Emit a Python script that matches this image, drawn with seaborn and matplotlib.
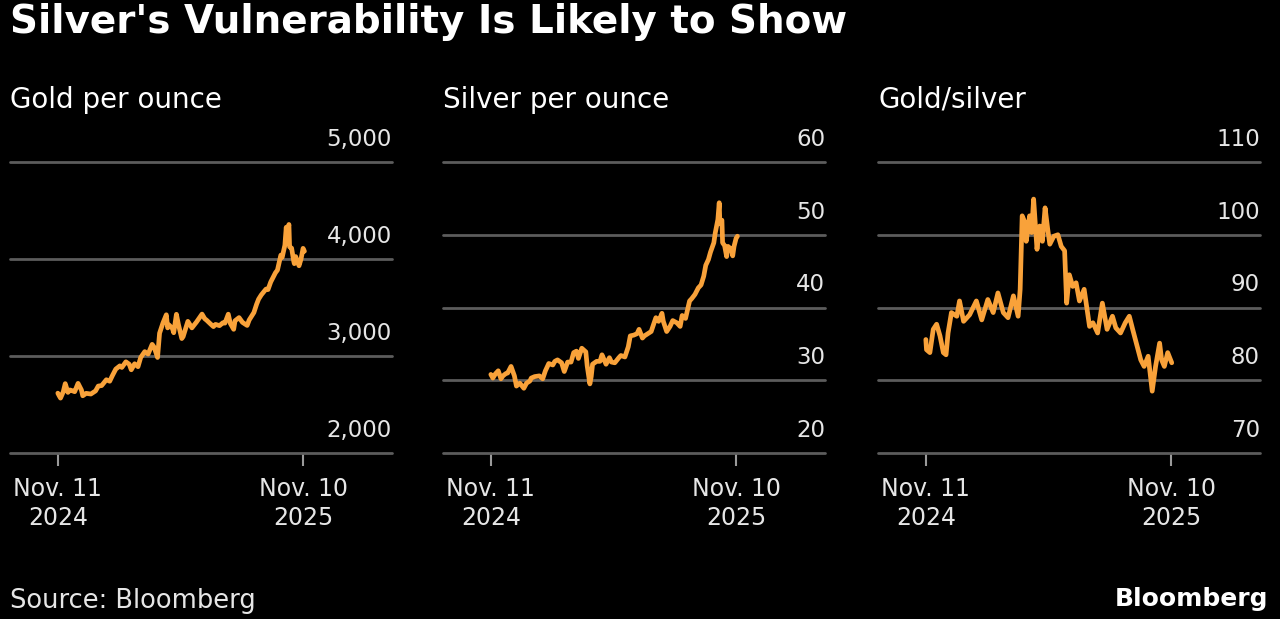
import matplotlib
matplotlib.use("Agg")
import matplotlib.pyplot as plt
import seaborn as sns
import pandas as pd

# ---------------- data ----------------
gold_dates = [
    "2024-11-11", "2024-11-13", "2024-11-15", "2024-11-19", "2024-11-22", "2024-11-26",
    "2024-11-29", "2024-12-03", "2024-12-06", "2024-12-11", "2024-12-16", "2024-12-18",
    "2024-12-23", "2024-12-30", "2025-01-06", "2025-01-10", "2025-01-15", "2025-01-22",
    "2025-01-27", "2025-01-31", "2025-02-05", "2025-02-11", "2025-02-14", "2025-02-20",
    "2025-02-25", "2025-02-28", "2025-03-05", "2025-03-10", "2025-03-14", "2025-03-20",
    "2025-03-25", "2025-03-31", "2025-04-03", "2025-04-08", "2025-04-11", "2025-04-16",
    "2025-04-21", "2025-04-23", "2025-04-25", "2025-04-30", "2025-05-02", "2025-05-06",
    "2025-05-09", "2025-05-14", "2025-05-16", "2025-05-20", "2025-05-23", "2025-05-29",
    "2025-06-05", "2025-06-13", "2025-06-17", "2025-06-20", "2025-06-26", "2025-06-30",
    "2025-07-03", "2025-07-09", "2025-07-14", "2025-07-17", "2025-07-22", "2025-07-25",
    "2025-07-30", "2025-08-01", "2025-08-07", "2025-08-12", "2025-08-19", "2025-08-22",
    "2025-08-29", "2025-09-02", "2025-09-05", "2025-09-09", "2025-09-16", "2025-09-19",
    "2025-09-23", "2025-09-30", "2025-10-03", "2025-10-08", "2025-10-10", "2025-10-14",
    "2025-10-16", "2025-10-17", "2025-10-20", "2025-10-21", "2025-10-24", "2025-10-27",
    "2025-10-28", "2025-10-30", "2025-11-04", "2025-11-07", "2025-11-10", "2025-11-12",
]
gold_values = [
    2617, 2590, 2566, 2630, 2715, 2625,
    2650, 2640, 2632, 2718, 2650, 2590,
    2615, 2608, 2640, 2690, 2695, 2755,
    2740, 2798, 2865, 2898, 2882, 2940,
    2915, 2858, 2920, 2890, 2985, 3045,
    3020, 3120, 3090, 2985, 3235, 3340,
    3425, 3290, 3320, 3285, 3240, 3430,
    3325, 3180, 3200, 3290, 3357, 3290,
    3352, 3432, 3385, 3368, 3328, 3303,
    3326, 3313, 3343, 3339, 3431, 3336,
    3275, 3363, 3396, 3347, 3315, 3371,
    3448, 3533, 3586, 3630, 3690, 3685,
    3763, 3858, 3886, 4040, 4017, 4142,
    4327, 4250, 4356, 4125, 4112, 3982,
    3952, 4025, 3930, 4000, 4110, 4080,
]

silver_dates = [
    "2024-11-11", "2024-11-14", "2024-11-18", "2024-11-22", "2024-11-26", "2024-11-29",
    "2024-12-03", "2024-12-06", "2024-12-11", "2024-12-16", "2024-12-19", "2024-12-24",
    "2024-12-30", "2025-01-03", "2025-01-08", "2025-01-10", "2025-01-15", "2025-01-22",
    "2025-01-27", "2025-01-31", "2025-02-05", "2025-02-11", "2025-02-14", "2025-02-18",
    "2025-02-24", "2025-02-28", "2025-03-05", "2025-03-10", "2025-03-14", "2025-03-18",
    "2025-03-21", "2025-03-26", "2025-04-01", "2025-04-03", "2025-04-07", "2025-04-09",
    "2025-04-11", "2025-04-17", "2025-04-22", "2025-04-25", "2025-05-01", "2025-05-06",
    "2025-05-09", "2025-05-14", "2025-05-20", "2025-05-23", "2025-05-29", "2025-06-03",
    "2025-06-06", "2025-06-11", "2025-06-16", "2025-06-19", "2025-06-24", "2025-06-27",
    "2025-07-02", "2025-07-07", "2025-07-11", "2025-07-14", "2025-07-18", "2025-07-23",
    "2025-07-25", "2025-07-30", "2025-08-04", "2025-08-08", "2025-08-14", "2025-08-19",
    "2025-08-22", "2025-08-27", "2025-09-02", "2025-09-05", "2025-09-10", "2025-09-15",
    "2025-09-19", "2025-09-23", "2025-09-26", "2025-09-30", "2025-10-03", "2025-10-08",
    "2025-10-10", "2025-10-14", "2025-10-16", "2025-10-17", "2025-10-20", "2025-10-21",
    "2025-10-24", "2025-10-27", "2025-10-29", "2025-11-03", "2025-11-05", "2025-11-07",
    "2025-11-10", "2025-11-12",
]
silver_values = [
    30.8, 30.3, 30.9, 31.3, 30.2, 30.6,
    30.9, 31.0, 31.9, 30.6, 29.2, 29.6,
    28.9, 29.6, 29.9, 30.3, 30.5, 30.6,
    30.2, 31.3, 32.3, 32.1, 32.6, 32.8,
    32.4, 31.2, 32.5, 32.5, 33.8, 34.0,
    33.0, 34.4, 33.9, 32.0, 29.5, 30.5,
    32.2, 32.6, 32.6, 33.5, 32.2, 33.1,
    32.5, 32.4, 33.1, 33.4, 33.2, 34.6,
    36.1, 36.2, 36.4, 37.0, 35.8, 36.1,
    36.4, 36.7, 37.8, 38.6, 38.1, 39.2,
    38.1, 36.7, 37.4, 38.2, 37.9, 37.4,
    38.9, 38.5, 40.9, 41.2, 41.8, 42.7,
    43.1, 44.3, 45.8, 46.6, 47.6, 48.9,
    50.2, 52.1, 54.4, 51.5, 52.0, 48.9,
    48.5, 47.0, 48.4, 48.0, 47.1, 48.4,
    49.5, 49.8,
]

ratio_dates = [
    "2024-11-11", "2024-11-12", "2024-11-17", "2024-11-22", "2024-11-27", "2024-12-02",
    "2024-12-07", "2024-12-11", "2024-12-14", "2024-12-19", "2024-12-27", "2024-12-31",
    "2025-01-06", "2025-01-15", "2025-01-25", "2025-02-02", "2025-02-11", "2025-02-19",
    "2025-02-26", "2025-03-06", "2025-03-13", "2025-03-21", "2025-03-28", "2025-03-31",
    "2025-04-03", "2025-04-07", "2025-04-09", "2025-04-14", "2025-04-17", "2025-04-20",
    "2025-04-25", "2025-04-29", "2025-05-03", "2025-05-07", "2025-05-11", "2025-05-14",
    "2025-05-20", "2025-05-26", "2025-05-31", "2025-06-05", "2025-06-08", "2025-06-12",
    "2025-06-17", "2025-06-22", "2025-06-27", "2025-07-04", "2025-07-12", "2025-07-17",
    "2025-07-24", "2025-07-31", "2025-08-07", "2025-08-15", "2025-08-20", "2025-08-27",
    "2025-09-03", "2025-09-09", "2025-09-14", "2025-09-18", "2025-09-26", "2025-10-01",
    "2025-10-07", "2025-10-13", "2025-10-18", "2025-10-24", "2025-10-27", "2025-10-31",
    "2025-11-05", "2025-11-11",
]
ratio_values = [
    85.6, 84.2, 83.8, 87.0, 87.7, 86.1,
    83.8, 83.5, 86.5, 89.3, 88.8, 90.9,
    88.1, 89.0, 90.9, 88.3, 91.1, 89.3,
    92.0, 89.3, 88.6, 91.6, 88.8, 92.5,
    102.6, 101.7, 99.1, 102.6, 100.3, 104.9,
    98.0, 101.2, 99.1, 103.7, 100.7, 98.7,
    99.8, 100.0, 98.4, 97.8, 90.6, 94.5,
    92.9, 93.4, 90.9, 92.5, 87.4, 87.9,
    86.5, 90.6, 87.0, 88.8, 87.2, 86.5,
    87.9, 88.8, 87.0, 85.6, 82.8, 81.9,
    83.3, 78.5, 81.9, 85.1, 82.8, 81.9,
    83.8, 82.4,
]

titles = ["Gold per ounce", "Silver per ounce", "Gold/silver"]
y_ticks = [[2000, 3000, 4000, 5000], [20, 30, 40, 50, 60], [70, 80, 90, 100, 110]]
x_tick_dates = ["2024-11-11", "2025-11-10"]
x_tick_labels = ["Nov. 11\n2024", "Nov. 10\n2025"]
x_limits = ["2024-09-01", "2026-03-22"]

# ---------------- style ----------------
BG = "#000000"
LINE = "#F9A23A"
GRID = "#5c5c5c"
TXT = "#e6e6e6"

sns.set_theme(style="dark", rc={
    "figure.facecolor": BG, "axes.facecolor": BG, "savefig.facecolor": BG,
})
plt.rcParams["font.family"] = ["DejaVu Sans"]

fig = plt.figure(figsize=(12.8, 6.19), dpi=100)

W, H = 1280, 619
lefts_px = [10, 443, 878]
ax_w_px = 382
top_px, bot_px = 162, 453

series = [
    (gold_dates, gold_values),
    (silver_dates, silver_values),
    (ratio_dates, ratio_values),
]

for i, (dates, vals) in enumerate(series):
    ax = fig.add_axes([lefts_px[i] / W, 1 - bot_px / H, ax_w_px / W, (bot_px - top_px) / H])
    ax.set_facecolor(BG)
    df = pd.DataFrame({"date": pd.to_datetime(dates), "value": vals})
    sns.lineplot(data=df, x="date", y="value", ax=ax, color=LINE, linewidth=3.4)
    ax.set_xlabel("")
    ax.set_ylabel("")
    ax.set_xlim(pd.Timestamp(x_limits[0]), pd.Timestamp(x_limits[1]))
    yt = y_ticks[i]
    ax.set_ylim(yt[0], yt[-1])
    ax.set_yticks(yt)
    ax.tick_params(axis="y", length=0, labelleft=False, labelright=False)
    ax.grid(axis="y", color=GRID, linewidth=2)
    ax.grid(axis="x", visible=False)
    for gl in ax.get_ygridlines():
        gl.set_clip_on(False)
    for s in ax.spines.values():
        s.set_visible(False)
    ax.set_xticks([pd.Timestamp(d) for d in x_tick_dates])
    ax.set_xticklabels(x_tick_labels, linespacing=1.3)
    ax.tick_params(axis="x", direction="out", length=9, width=1.5, color="#9a9a9a",
                   pad=8, labelsize=17, labelcolor=TXT, bottom=True)
    for v in yt:
        ax.annotate(f"{v:,}", xy=(1, v), xycoords=("axes fraction", "data"),
                    xytext=(0, 8), textcoords="offset points", ha="right", va="bottom",
                    color=TXT, fontsize=16.5, annotation_clip=False)
    fig.text(lefts_px[i] / W, 1 - 100 / H, titles[i], color="white", fontsize=20,
             ha="left", va="center")

fig.text(10 / W, 1 - 22 / H, "Silver's Vulnerability Is Likely to Show", color="white",
         fontsize=28, fontweight="bold", ha="left", va="center")
fig.text(10 / W, 1 - 601 / H, "Source: Bloomberg", color=TXT, fontsize=18.5,
         ha="left", va="center")
fig.text(1268 / W, 1 - 599 / H, "Bloomberg", color="white", fontsize=18,
         fontweight="bold", ha="right", va="center")

fig.savefig("out.png", dpi=100, facecolor=BG)
